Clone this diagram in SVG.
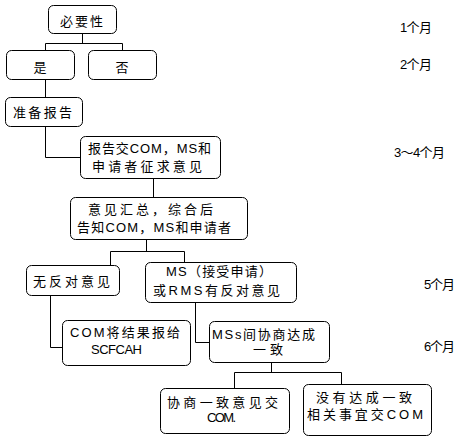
<svg xmlns="http://www.w3.org/2000/svg" width="464" height="442" viewBox="0 0 464 442">
<style>
.b{fill:#fff;stroke:#000;stroke-width:1}
.c{fill:none;stroke:#000;stroke-width:1}
text{font-family:"Liberation Sans","Noto Sans CJK SC",sans-serif;font-size:13px;fill:#000}
</style>
<rect width="464" height="442" fill="#fff"/>
<g id="connectors">
<polyline class="c" points="82.5,33 82.5,43.5"/>
<polyline class="c" points="45.5,50 45.5,43.5 122.5,43.5 122.5,50"/>
<polyline class="c" points="45.5,79 45.5,97"/>
<polyline class="c" points="45.5,126 45.5,157.5 80,157.5"/>
<polyline class="c" points="153.5,178 153.5,197"/>
<polyline class="c" points="146.5,239 146.5,251.5"/>
<polyline class="c" points="110.5,265 110.5,251.5 184.5,251.5 184.5,262"/>
<polyline class="c" points="50.5,295 50.5,347.5 62,347.5"/>
<polyline class="c" points="195.5,302 195.5,342.5 209,342.5"/>
<polyline class="c" points="271.5,362 271.5,372.5"/>
<polyline class="c" points="234.5,388 234.5,372.5 341.5,372.5 341.5,384"/>
</g>
<g id="n1"><rect class="b" x="48.5" y="5.5" width="68" height="28" rx="5"/><text x="60" y="26" textLength="43" lengthAdjust="spacing">必要性</text></g>
<g id="n2"><rect class="b" x="6.5" y="50.5" width="68" height="29" rx="5"/><text x="40" y="72" text-anchor="middle">是</text></g>
<g id="n3"><rect class="b" x="88.5" y="50.5" width="68" height="29" rx="5"/><text x="122" y="72" text-anchor="middle">否</text></g>
<g id="n4"><rect class="b" x="5.5" y="97.5" width="77" height="29" rx="5"/><text x="13" y="117" textLength="59" lengthAdjust="spacing">准备报告</text></g>
<g id="n5"><rect class="b" x="80.5" y="136.5" width="140" height="42" rx="5"/><text x="88" y="153" textLength="123" lengthAdjust="spacing">报告交COM，MS和</text><text x="92" y="171" textLength="110" lengthAdjust="spacing">申请者征求意见</text></g>
<g id="n6"><rect class="b" x="70.5" y="197.5" width="177" height="42" rx="5"/><text x="88" y="214" textLength="125" lengthAdjust="spacing">意见汇总，综合后</text><text x="77" y="232" textLength="154" lengthAdjust="spacing">告知COM，MS和申请者</text></g>
<g id="n7"><rect class="b" x="26.5" y="265.5" width="93" height="30" rx="5"/><text x="33" y="286" textLength="77" lengthAdjust="spacing">无反对意见</text></g>
<g id="n8"><rect class="b" x="145.5" y="262.5" width="151" height="40" rx="5"/><text x="166" y="276" textLength="106" lengthAdjust="spacing">MS（接受申请）</text><text x="153" y="295" textLength="127" lengthAdjust="spacing">或RMS有反对意见</text></g>
<g id="n9"><rect class="b" x="62.5" y="320.5" width="128" height="45" rx="5"/><text x="70" y="337" textLength="110" lengthAdjust="spacing">COM将结果报给</text><text x="91" y="354" textLength="51" lengthAdjust="spacing">SCFCAH</text></g>
<g id="n10"><rect class="b" x="209.5" y="321.5" width="120" height="41" rx="5"/><text x="212" y="339" textLength="103" lengthAdjust="spacing">MSs间协商达成</text><text x="253" y="354" textLength="30" lengthAdjust="spacing">一致</text></g>
<g id="n11"><rect class="b" x="160.5" y="388.5" width="129" height="45" rx="5"/><text x="167" y="407" textLength="111" lengthAdjust="spacing">协商一致意见交</text><text x="207" y="422" textLength="29" lengthAdjust="spacing">COM.</text></g>
<g id="n12"><rect class="b" x="303.5" y="384.5" width="128" height="51" rx="5"/><text x="316" y="402" textLength="96" lengthAdjust="spacing">没有达成一致</text><text x="307" y="419" textLength="116" lengthAdjust="spacing">相关事宜交COM</text></g>
<g id="labels">
<text x="400" y="32" textLength="32" lengthAdjust="spacing">1个月</text>
<text x="400" y="69" textLength="32" lengthAdjust="spacing">2个月</text>
<text x="394" y="157" textLength="51" lengthAdjust="spacing">3～4个月</text>
<text x="424" y="289" textLength="31" lengthAdjust="spacing">5个月</text>
<text x="424" y="351" textLength="31" lengthAdjust="spacing">6个月</text>
</g>
</svg>
